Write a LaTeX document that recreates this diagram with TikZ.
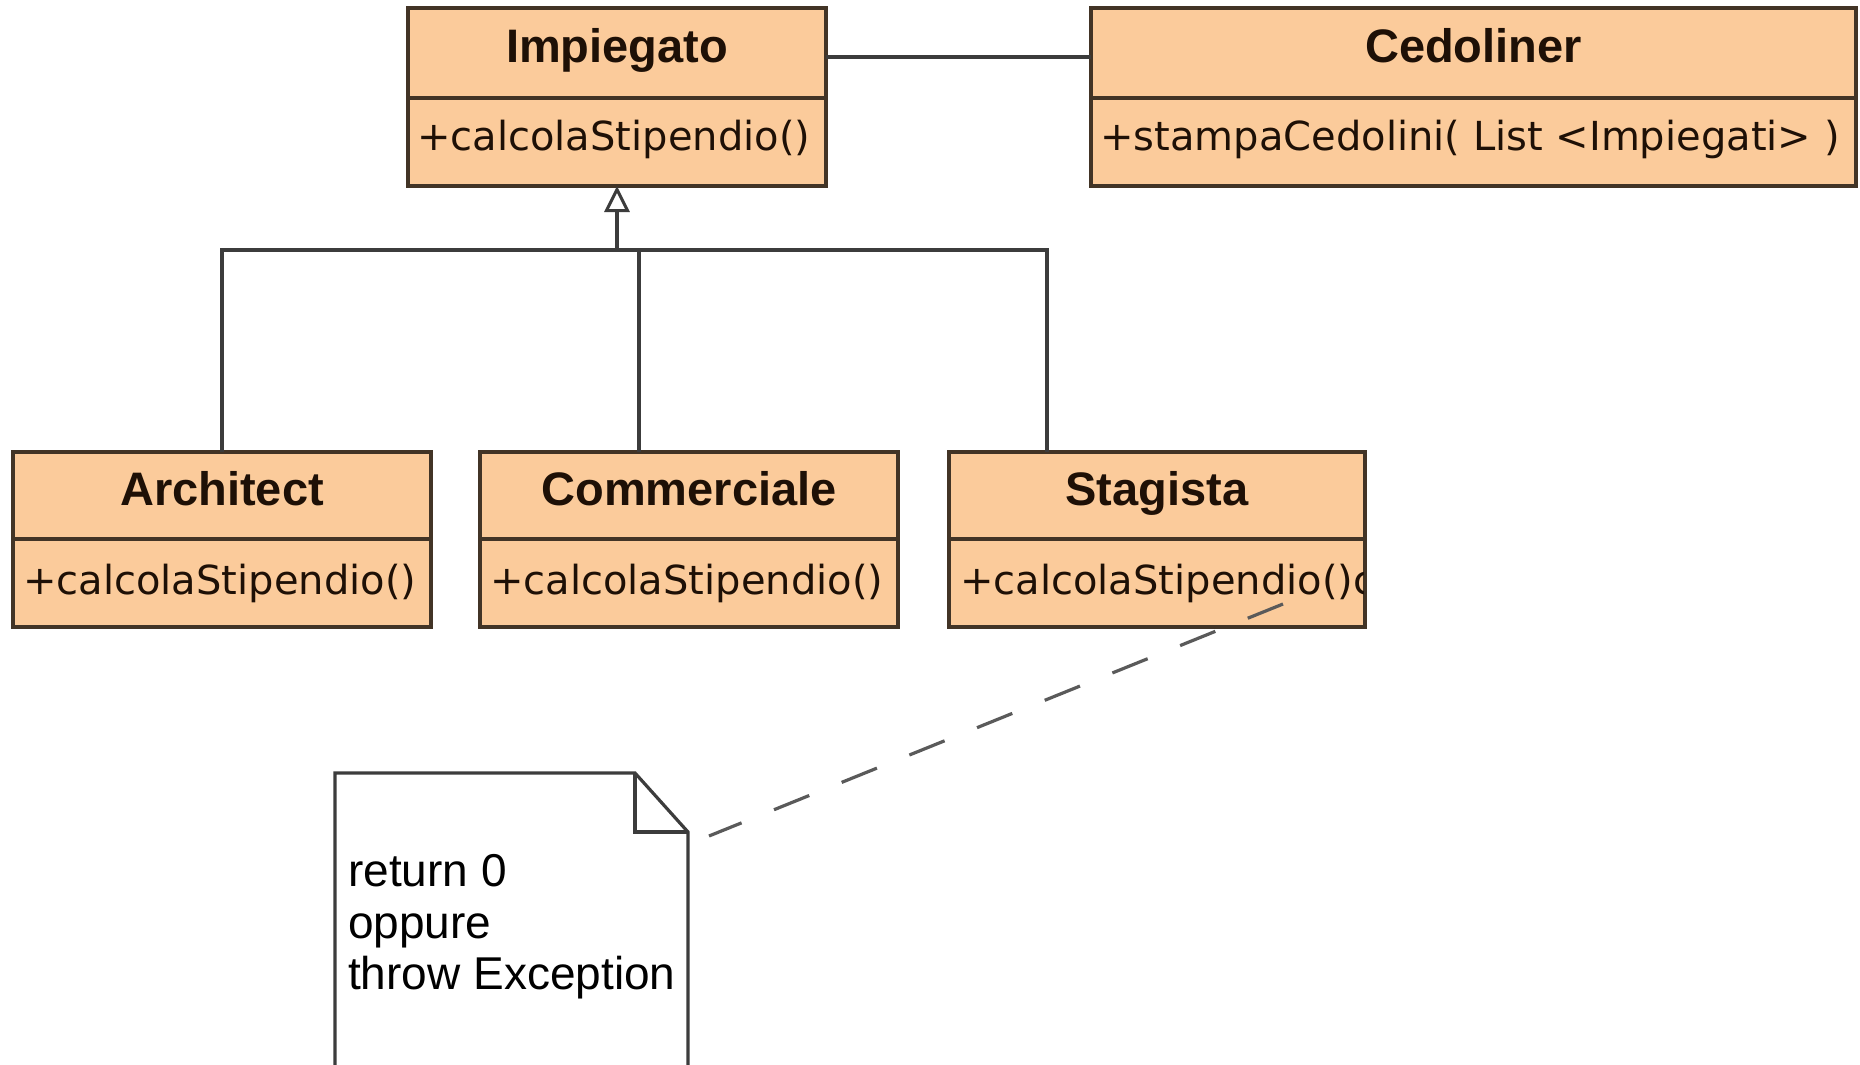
\documentclass[tikz,border=0pt]{standalone}
\usepackage{fontspec}
\setmainfont{Liberation Sans}
\newfontfamily\memberfont{DejaVu Sans}
\usetikzlibrary{arrows.meta}

\definecolor{classfill}{RGB}{251,203,155}
\definecolor{classedge}{RGB}{66,52,38}
\definecolor{inkdark}{RGB}{30,16,6}
\definecolor{wiregray}{RGB}{60,60,60}
\definecolor{dashgray}{RGB}{90,90,90}

\begin{document}
\begin{tikzpicture}[x=1pt,y=-1pt,
  classbox/.style={draw=classedge, fill=classfill, line width=3.5pt, rectangle,
    anchor=north west, inner sep=0pt, outer sep=0pt},
  compartment/.style={draw=classedge, line width=3.5pt},
  classname/.style={anchor=base, inner sep=0pt, text=inkdark,
    font=\fontsize{47}{52}\selectfont\bfseries},
  member/.style={anchor=base west, inner sep=0pt, text=inkdark,
    font=\memberfont\fontsize{40}{45}\selectfont},
  link/.style={draw=wiregray, line width=3.2pt},
  generalization/.style={link, -{Triangle[open, length=26pt, width=25pt, line width=3pt]}},
  anchorline/.style={draw=dashgray, line width=3.2pt, dash pattern=on 38pt off 35pt},
  notebox/.style={draw=wiregray, line width=3.2pt, line join=miter},
  notetext/.style={anchor=base west, inner sep=0pt, text=black,
    font=\fontsize{46}{52}\selectfont},
]
\useasboundingbox (0,0) rectangle (1860,1065);
\clip (0,0) rectangle (1860,1065);
\fill[white] (0,0) rectangle (1860,1065);

% ---- Impiegato ----
\node[classbox, minimum width=418pt, minimum height=178pt] (imp) at (408,8) {};
\draw[compartment] ([yshift=-90pt]imp.north west) -- ([yshift=-90pt]imp.north east);
\node[classname] (imp-name) at ([yshift=-55pt]imp.north) {Impiegato};
\node[member] (imp-op) at ([xshift=9pt,yshift=-142pt]imp.north west) {+calcolaStipendio()};

% ---- Cedoliner ----
\node[classbox, minimum width=765pt, minimum height=178pt] (ced) at (1091,8) {};
\draw[compartment] ([yshift=-90pt]ced.north west) -- ([yshift=-90pt]ced.north east);
\node[classname] (ced-name) at ([yshift=-55pt]ced.north) {Cedoliner};
\node[member] (ced-op) at ([xshift=9pt,yshift=-142pt]ced.north west) {+stampaCedolini( List <Impiegati> )};

% ---- Architect ----
\node[classbox, minimum width=418pt, minimum height=175pt] (arch) at (13,452) {};
\draw[compartment] ([yshift=-87pt]arch.north west) -- ([yshift=-87pt]arch.north east);
\node[classname] (arch-name) at ([yshift=-53pt]arch.north) {Architect};
\node[member] (arch-op) at ([xshift=10pt,yshift=-142pt]arch.north west) {+calcolaStipendio()};

% ---- Commerciale ----
\node[classbox, minimum width=418pt, minimum height=175pt] (comm) at (480,452) {};
\draw[compartment] ([yshift=-87pt]comm.north west) -- ([yshift=-87pt]comm.north east);
\node[classname] (comm-name) at ([yshift=-53pt]comm.north) {Commerciale};
\node[member] (comm-op) at ([xshift=10pt,yshift=-142pt]comm.north west) {+calcolaStipendio()};

% ---- Stagista (operation text runs past the right edge) ----
\node[classbox, minimum width=416pt, minimum height=175pt] (stag) at (949,452) {};
\draw[compartment] ([yshift=-87pt]stag.north west) -- ([yshift=-87pt]stag.north east);
\node[classname] (stag-name) at ([yshift=-53pt]stag.north) {Stagista};
\begin{scope}
  \clip (stag.north west) rectangle ([xshift=-1.75pt]stag.south east);
  \node[member] (stag-op) at ([xshift=11pt,yshift=-142pt]stag.north west) {+calcolaStipendio()c};
\end{scope}

% ---- association Impiegato -- Cedoliner ----
\draw[link] ([yshift=-49pt]imp.north east) -- ([yshift=-49pt]ced.north west);

% ---- generalization tree ----
\coordinate (bus) at ([yshift=-64pt]imp.south);
\draw[link] (arch.north) |- ([xshift=-110pt]stag.north |- bus) -- ([xshift=-110pt]stag.north);
\draw[link] ([xshift=-50pt]comm.north) -- ([xshift=-50pt]comm.north |- bus);
\draw[generalization] (bus) -- (imp.south);

% ---- note with folded corner ----
\coordinate (notefold) at (635,773);
\coordinate (notecorner) at (688,832);
\fill[white] (335,1100) -- (335,773) -- (notefold) -- (notecorner) -- (688,1100) -- cycle;
\draw[notebox] (335,1100) -- (335,773) -- (notefold) -- (notecorner) -- (688,1100);
\draw[notebox] (notefold) -- (notefold |- notecorner) -- (notecorner);
\node[notetext] (note-l1) at (348,886) {return 0};
\node[notetext] (note-l2) at (348,938) {oppure};
\node[notetext] (note-l3) at (348,989) {throw Exception};

% ---- note anchor ----
\coordinate (opanchor) at (1283,604);
\coordinate (noteend) at (709,836);
\draw[anchorline] (opanchor) -- (noteend);
\end{tikzpicture}
\end{document}
